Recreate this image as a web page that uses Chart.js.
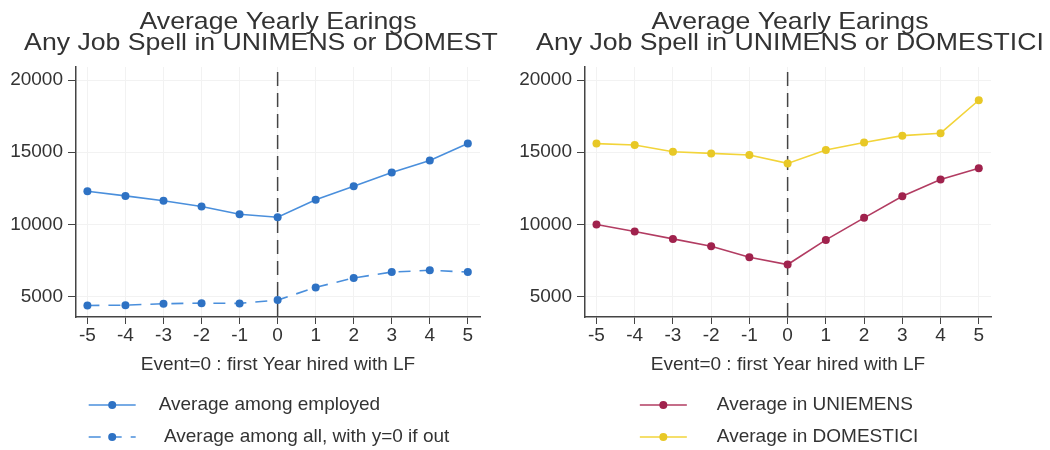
<!DOCTYPE html>
<html>
<head>
<meta charset="utf-8">
<title>Average Yearly Earings</title>
<script src="https://cdn.jsdelivr.net/npm/chart.js@4.4.1/dist/chart.umd.min.js"></script>
<style>
  body { margin: 0; background: #fff; width: 1050px; height: 450px; overflow: hidden; position: relative; }
  .panel { position: absolute; top: 0; height: 450px; }
  #leftBox { left: 0; width: 500px; }
  #rightBox { left: 515px; width: 535px; }
</style>
</head>
<body>
<div class="panel" id="leftBox"><canvas id="leftChart"></canvas></div>
<div class="panel" id="rightBox"><canvas id="rightChart"></canvas></div>

<script>
// event time relative to first year hired
const eventYears = [-5, -4, -3, -2, -1, 0, 1, 2, 3, 4, 5];
const yTicks = [5000, 10000, 15000, 20000];
const yRange = [3600, 20900];
const xRange = [-5.3, 5.32];

// left panel
const avgEmployed = [12300, 11980, 11640, 11250, 10710, 10500, 11710, 12650, 13600, 14430, 15600];
const avgAllZero = [4400, 4420, 4520, 4560, 4540, 4770, 5650, 6300, 6710, 6830, 6710];

// right panel
const avgUniemens = [10000, 9515, 9005, 8500, 7735, 7230, 8935, 10460, 11960, 13115, 13890];
const avgDomestici = [15600, 15500, 15040, 14920, 14810, 14230, 15160, 15670, 16150, 16320, 18600];

const titleLines = ["Average Yearly Earings", "Any Job Spell in UNIMENS or DOMESTICI"];
const xTitle = "Event=0 : first Year hired with LF";

const fontFamily = "'Liberation Sans', Arial, sans-serif";
const textColor = "#333333";
const axisColor = "#444444";

Chart.defaults.font.family = fontFamily;
Chart.defaults.color = textColor;

// two-line title centred over the plot region, allowed to run past it
const panelTitle = {
  id: "panelTitle",
  afterDraw(chart, args, opts) {
    const { ctx, chartArea } = chart;
    const cx = (chartArea.left + chartArea.right) / 2 + (opts.shift || 0);
    ctx.save();
    ctx.font = opts.size + "px " + fontFamily;
    ctx.fillStyle = textColor;
    ctx.textAlign = "center";
    ctx.textBaseline = "alphabetic";
    opts.lines.forEach((line, i) => {
      ctx.save();
      ctx.translate(cx, opts.baselines[i]);
      ctx.scale(opts.stretch, 1);
      ctx.fillText(line, 0, 0);
      ctx.restore();
    });
    ctx.restore();
  }
};

// legend stacked in one column below the x title
const stackedLegend = {
  id: "stackedLegend",
  afterDraw(chart, args, opts) {
    const { ctx, chartArea } = chart;
    const rows = opts.rows || [];
    ctx.save();
    ctx.font = "19px " + fontFamily;
    const widths = rows.map((i) => ctx.measureText(chart.data.datasets[i].label).width);
    const blockWidth = opts.textOffset + Math.max(...widths);
    const startX = (chartArea.left + chartArea.right) / 2 - blockWidth / 2 + opts.shift;

    rows.forEach((index, row) => {
      const ds = chart.data.datasets[index];
      const y = chartArea.bottom + opts.firstRow + row * opts.rowGap;

      ctx.strokeStyle = ds.borderColor;
      ctx.lineWidth = ds.borderWidth;
      ctx.setLineDash(ds.borderDash || []);
      ctx.beginPath();
      ctx.moveTo(startX, y);
      ctx.lineTo(startX + opts.symbolWidth, y);
      ctx.stroke();
      ctx.setLineDash([]);

      ctx.fillStyle = ds.pointBackgroundColor;
      ctx.beginPath();
      ctx.arc(startX + opts.symbolWidth / 2, y, ds.pointRadius, 0, Math.PI * 2);
      ctx.fill();

      ctx.fillStyle = textColor;
      ctx.textBaseline = "middle";
      ctx.textAlign = "left";
      ctx.fillText(ds.label, startX + opts.textOffset, y);
    });
    ctx.restore();
  }
};

function toPoints(values) {
  return values.map((v, i) => ({ x: eventYears[i], y: v }));
}

function seriesDataset(label, values, lineColor, markerColor, dash) {
  return {
    label,
    data: toPoints(values),
    borderColor: lineColor,
    borderWidth: 1.6,
    borderDash: dash || [],
    pointRadius: 4,
    pointHoverRadius: 4,
    pointBackgroundColor: markerColor,
    pointBorderWidth: 0,
    tension: 0
  };
}

function eventLineDataset() {
  return {
    label: "event",
    data: [{ x: 0, y: yRange[0] }, { x: 0, y: yRange[1] }],
    borderColor: axisColor,
    borderWidth: 1.5,
    borderDash: [14, 7],
    pointRadius: 0
  };
}

function createPanel(canvasId, datasets, layout) {
  const ctx = document.getElementById(canvasId).getContext("2d");
  return new Chart(ctx, {
    type: "line",
    data: { datasets },
    options: {
      responsive: true,
      maintainAspectRatio: false,
      animation: false,
      events: [],
      layout: {
        padding: { left: layout.left, right: layout.right, top: 67, bottom: 72 }
      },
      plugins: {
        legend: { display: false },
        tooltip: { enabled: false },
        title: { display: false },
        panelTitle: {
          lines: titleLines,
          size: 24,
          stretch: 1.11,
          baselines: [29, 50],
          shift: layout.titleShift
        },
        stackedLegend: {
          rows: [0, 1],
          firstRow: 88,
          rowGap: 32,
          symbolWidth: 47,
          textOffset: layout.textOffset,
          shift: layout.shift
        }
      },
      scales: {
        x: {
          type: "linear",
          position: "bottom",
          min: xRange[0],
          max: xRange[1],
          afterBuildTicks: (axis) => {
            axis.ticks = eventYears.map((v) => ({ value: v }));
          },
          afterFit: (axis) => {
            axis.height = 61;
          },
          ticks: { font: { size: 19 }, color: textColor, padding: 0, callback: (v) => String(v) },
          grid: { color: "#f2f2f2", tickColor: axisColor, tickLength: 7, lineWidth: 1 },
          border: { color: axisColor, width: 1.5 },
          title: {
            display: true,
            text: xTitle,
            color: textColor,
            font: { size: 19 },
            padding: { top: 0, bottom: 2 }
          }
        },
        y: {
          type: "linear",
          min: yRange[0],
          max: yRange[1],
          afterBuildTicks: (axis) => {
            axis.ticks = yTicks.map((v) => ({ value: v }));
          },
          afterFit: (axis) => {
            axis.width = layout.yWidth;
          },
          ticks: { font: { size: 19 }, color: textColor, padding: 5, callback: (v) => String(v) },
          grid: { color: "#f2f2f2", tickColor: axisColor, tickLength: 8, lineWidth: 1 },
          border: { color: axisColor, width: 1.5 }
        }
      }
    },
    plugins: [panelTitle, stackedLegend]
  });
}

createPanel(
  "leftChart",
  [
    seriesDataset("Average among employed", avgEmployed, "#4a8fdc", "#2e72c4"),
    seriesDataset(" Average among all, with y=0 if out", avgAllZero, "#4a8fdc", "#2e72c4", [12, 9]),
    eventLineDataset()
  ],
  { left: 8, right: 20, yWidth: 68, textOffset: 70, shift: -9, titleShift: 0 }
);

createPanel(
  "rightChart",
  [
    seriesDataset("Average in UNIEMENS", avgUniemens, "#b23c62", "#a0224d"),
    seriesDataset("Average in DOMESTICI", avgDomestici, "#f2d43a", "#e8c826"),
    eventLineDataset()
  ],
  { left: 0, right: 59, yWidth: 70, textOffset: 77, shift: -9, titleShift: 2 }
);
</script>
</body>
</html>
